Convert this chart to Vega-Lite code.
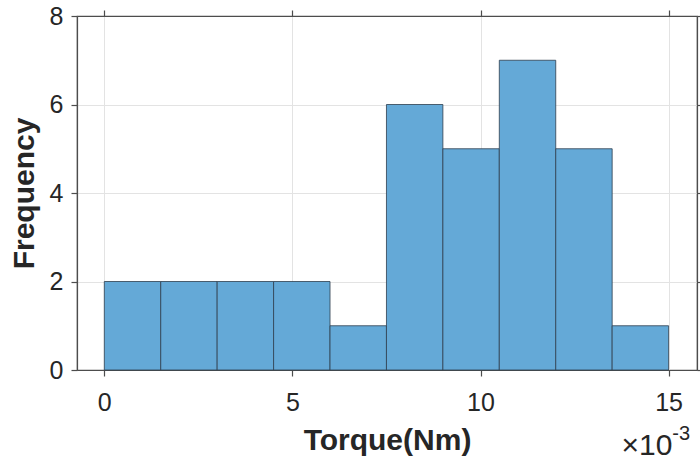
{
  "$schema": "https://vega.github.io/schema/vega-lite/v6.json",
  "width": 620,
  "height": 354,
  "autosize": {"type": "none"},
  "padding": {"left": 77, "top": 16, "right": 3, "bottom": 92},
  "background": "white",
  "config": {
    "font": "Liberation Sans",
    "view": {"stroke": "#4d4d4d", "strokeWidth": 1.2},
    "axis": {
      "labelFont": "Liberation Sans",
      "titleFont": "Liberation Sans",
      "labelFontSize": 25,
      "labelColor": "#262626",
      "titleColor": "#262626",
      "domainColor": "#4d4d4d",
      "domainWidth": 1.2,
      "tickColor": "#4d4d4d",
      "tickWidth": 1.2,
      "tickSize": 6,
      "gridColor": "#e3e3e3",
      "gridWidth": 1,
      "titleFontSize": 30,
      "titleFontWeight": "bold"
    }
  },
  "datasets": {
    "bins": [
      {"bin_start": 0.0, "bin_end": 0.0015, "count": 2},
      {"bin_start": 0.0015, "bin_end": 0.003, "count": 2},
      {"bin_start": 0.003, "bin_end": 0.0045, "count": 2},
      {"bin_start": 0.0045, "bin_end": 0.006, "count": 2},
      {"bin_start": 0.006, "bin_end": 0.0075, "count": 1},
      {"bin_start": 0.0075, "bin_end": 0.009, "count": 6},
      {"bin_start": 0.009, "bin_end": 0.0105, "count": 5},
      {"bin_start": 0.0105, "bin_end": 0.012, "count": 7},
      {"bin_start": 0.012, "bin_end": 0.0135, "count": 5},
      {"bin_start": 0.0135, "bin_end": 0.015, "count": 1}
    ]
  },
  "data": {"name": "bins"},
  "resolve": {"axis": {"x": "independent", "y": "independent"}},
  "layer": [
    {
      "mark": {"type": "bar", "fill": "#64a9d7", "stroke": "#2e3f4f", "strokeWidth": 1, "strokeOpacity": 0.8},
      "encoding": {
        "x": {
          "field": "bin_start", "type": "quantitative",
          "scale": {"domain": [-0.000726, 0.015755], "nice": false, "zero": false},
          "axis": {
            "orient": "bottom",
            "values": [0, 0.005, 0.01, 0.015],
            "labelExpr": "format(datum.value * 1000, 'd')",
            "labelPadding": 14,
            "title": "Torque(Nm)",
            "titlePadding": 10,
            "grid": true
          }
        },
        "x2": {"field": "bin_end"},
        "y": {
          "field": "count", "type": "quantitative",
          "scale": {"domain": [0, 8], "nice": false},
          "axis": {
            "orient": "left",
            "values": [0, 2, 4, 6, 8],
            "labelPadding": 8,
            "title": "Frequency",
            "titlePadding": 10,
            "grid": true
          }
        },
        "y2": {"datum": 0}
      }
    },
    {
      "mark": {"type": "point", "opacity": 0},
      "encoding": {
        "x": {
          "field": "bin_start", "type": "quantitative",
          "axis": {"orient": "top", "values": [0, 0.005, 0.01, 0.015], "labels": false, "title": null, "grid": false}
        },
        "y": {
          "field": "count", "type": "quantitative",
          "axis": {"orient": "right", "values": [0, 2, 4, 6, 8], "labels": false, "title": null, "grid": false}
        }
      }
    },
    {
      "data": {"values": [{"label": "×10"}]},
      "mark": {"type": "text", "align": "right", "baseline": "alphabetic", "fontSize": 30, "color": "#262626", "clip": false},
      "encoding": {
        "x": {"datum": 0.0151, "type": "quantitative", "axis": null},
        "y": {"datum": -1.93, "type": "quantitative", "axis": null},
        "text": {"field": "label"}
      }
    },
    {
      "data": {"values": [{"label": "-3"}]},
      "mark": {"type": "text", "align": "left", "baseline": "alphabetic", "fontSize": 20, "color": "#262626", "clip": false},
      "encoding": {
        "x": {"datum": 0.0151, "type": "quantitative", "axis": null},
        "y": {"datum": -1.59, "type": "quantitative", "axis": null},
        "text": {"field": "label"}
      }
    }
  ]
}
